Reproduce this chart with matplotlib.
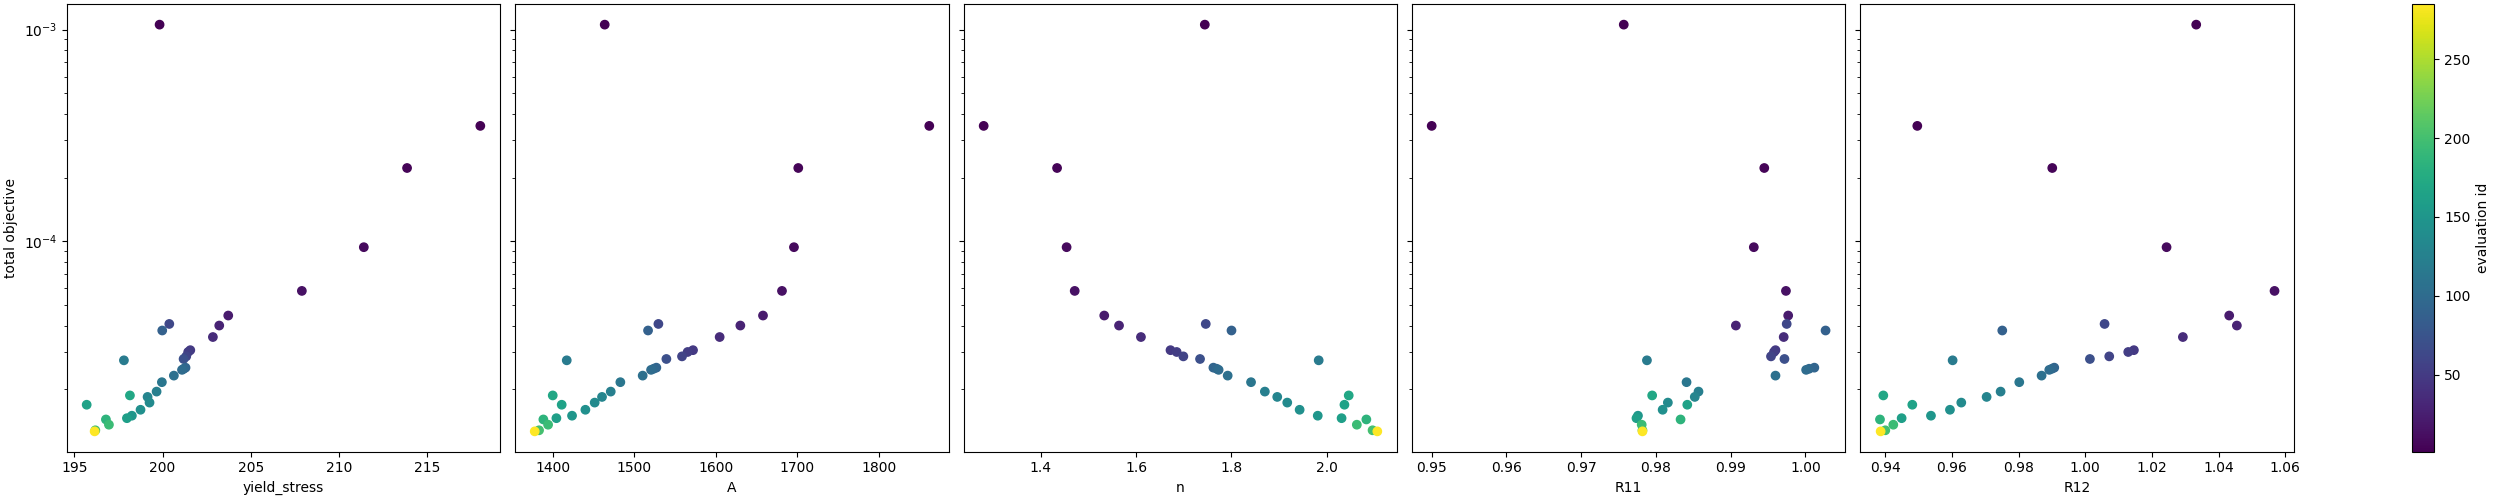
import matplotlib
matplotlib.use("Agg")
import matplotlib.pyplot as plt

# evaluations (one entry per point)
total_objective = [1.056e-3, 3.51e-4, 2.22e-4, 9.38e-5, 5.83e-5, 4.46e-5, 4.00e-5, 4.07e-5,
                   3.79e-5, 3.53e-5, 3.06e-5, 3.00e-5, 2.86e-5, 2.78e-5, 2.74e-5, 2.53e-5,
                   2.50e-5, 2.47e-5, 2.32e-5, 2.16e-5, 1.95e-5, 1.84e-5, 1.87e-5, 1.73e-5,
                   1.69e-5, 1.60e-5, 1.50e-5, 1.46e-5, 1.44e-5, 1.36e-5, 1.28e-5, 1.265e-5]
yield_stress = [199.83, 218.0, 213.85, 211.40, 207.89, 203.72, 203.21, 200.38,
                199.98, 202.85, 201.57, 201.45, 201.34, 201.19, 197.81, 201.3,
                201.2, 201.1, 200.64, 199.96, 199.66, 199.15, 198.15, 199.26,
                195.70, 198.75, 198.26, 197.98, 196.79, 196.96, 196.19, 196.15]
A = [1463.8, 1862.2, 1701.4, 1696.1, 1681.4, 1658.1, 1630.3, 1529.7,
     1517.0, 1604.9, 1572.2, 1565.6, 1558.7, 1539.5, 1417.2, 1527.2,
     1523.9, 1520.7, 1510.4, 1483.0, 1471.2, 1460.5, 1400.0, 1451.5,
     1411.0, 1440.1, 1423.7, 1404.5, 1388.5, 1394.3, 1383.2, 1377.9]
n = [1.744, 1.280, 1.434, 1.454, 1.471, 1.533, 1.564, 1.746,
     1.800, 1.610, 1.672, 1.685, 1.699, 1.734, 1.983, 1.762,
     1.769, 1.773, 1.792, 1.841, 1.870, 1.896, 2.046, 1.917,
     2.037, 1.943, 1.981, 2.031, 2.083, 2.063, 2.096, 2.106]
R11 = [0.9757, 0.9500, 0.9945, 0.9931, 0.9974, 0.9977, 0.9907, 0.9975,
       1.0027, 0.9971, 0.9960, 0.9958, 0.9954, 0.9972, 0.9788, 1.0012,
       1.0005, 1.0001, 0.9960, 0.9841, 0.9857, 0.9852, 0.9795, 0.9816,
       0.9842, 0.9809, 0.9776, 0.9774, 0.9833, 0.9781, 0.9782, 0.9782]
R12 = [1.0333, 0.9496, 0.9901, 1.0244, 1.0568, 1.0432, 1.0455, 1.0058,
       0.9751, 1.0293, 1.0146, 1.0129, 1.0072, 1.0014, 0.9602, 0.9907,
       0.9900, 0.9892, 0.9869, 0.9802, 0.9746, 0.9704, 0.9394, 0.9628,
       0.9481, 0.9594, 0.9537, 0.9449, 0.9384, 0.9424, 0.9400, 0.9386]
eval_id = [1, 2, 4, 8, 14, 22, 28, 62,
           88, 36, 48, 52, 58, 70, 118, 92,
           96, 100, 105, 112, 122, 130, 170, 136,
           165, 142, 150, 160, 185, 195, 200, 285]

params = {"yield_stress": yield_stress, "A": A, "n": n, "R11": R11, "R12": R12}

fig = plt.figure(figsize=(25, 5), dpi=100)
bottom, height = 0.0966, 0.8948
lefts = [0.0268, 0.206, 0.3856, 0.5648, 0.7441]
widths = [0.1732, 0.1736, 0.1732, 0.1733, 0.1736]

axes = []
for i, (name, vals) in enumerate(params.items()):
    ax = fig.add_axes([lefts[i], bottom, widths[i], height],
                      sharey=axes[0] if axes else None)
    sc = ax.scatter(vals, total_objective, c=eval_id, cmap="viridis", vmin=1, vmax=285)
    ax.set_yscale("log")
    ax.set_xlabel(name)
    if i == 0:
        ax.set_ylabel("total objective")
    else:
        ax.tick_params(labelleft=False)
    axes.append(ax)

cax = fig.add_axes([0.9649, bottom, 0.0088, height])
cb = fig.colorbar(sc, cax=cax)
cb.set_label("evaluation id")

fig.savefig("out.png", dpi=100)
